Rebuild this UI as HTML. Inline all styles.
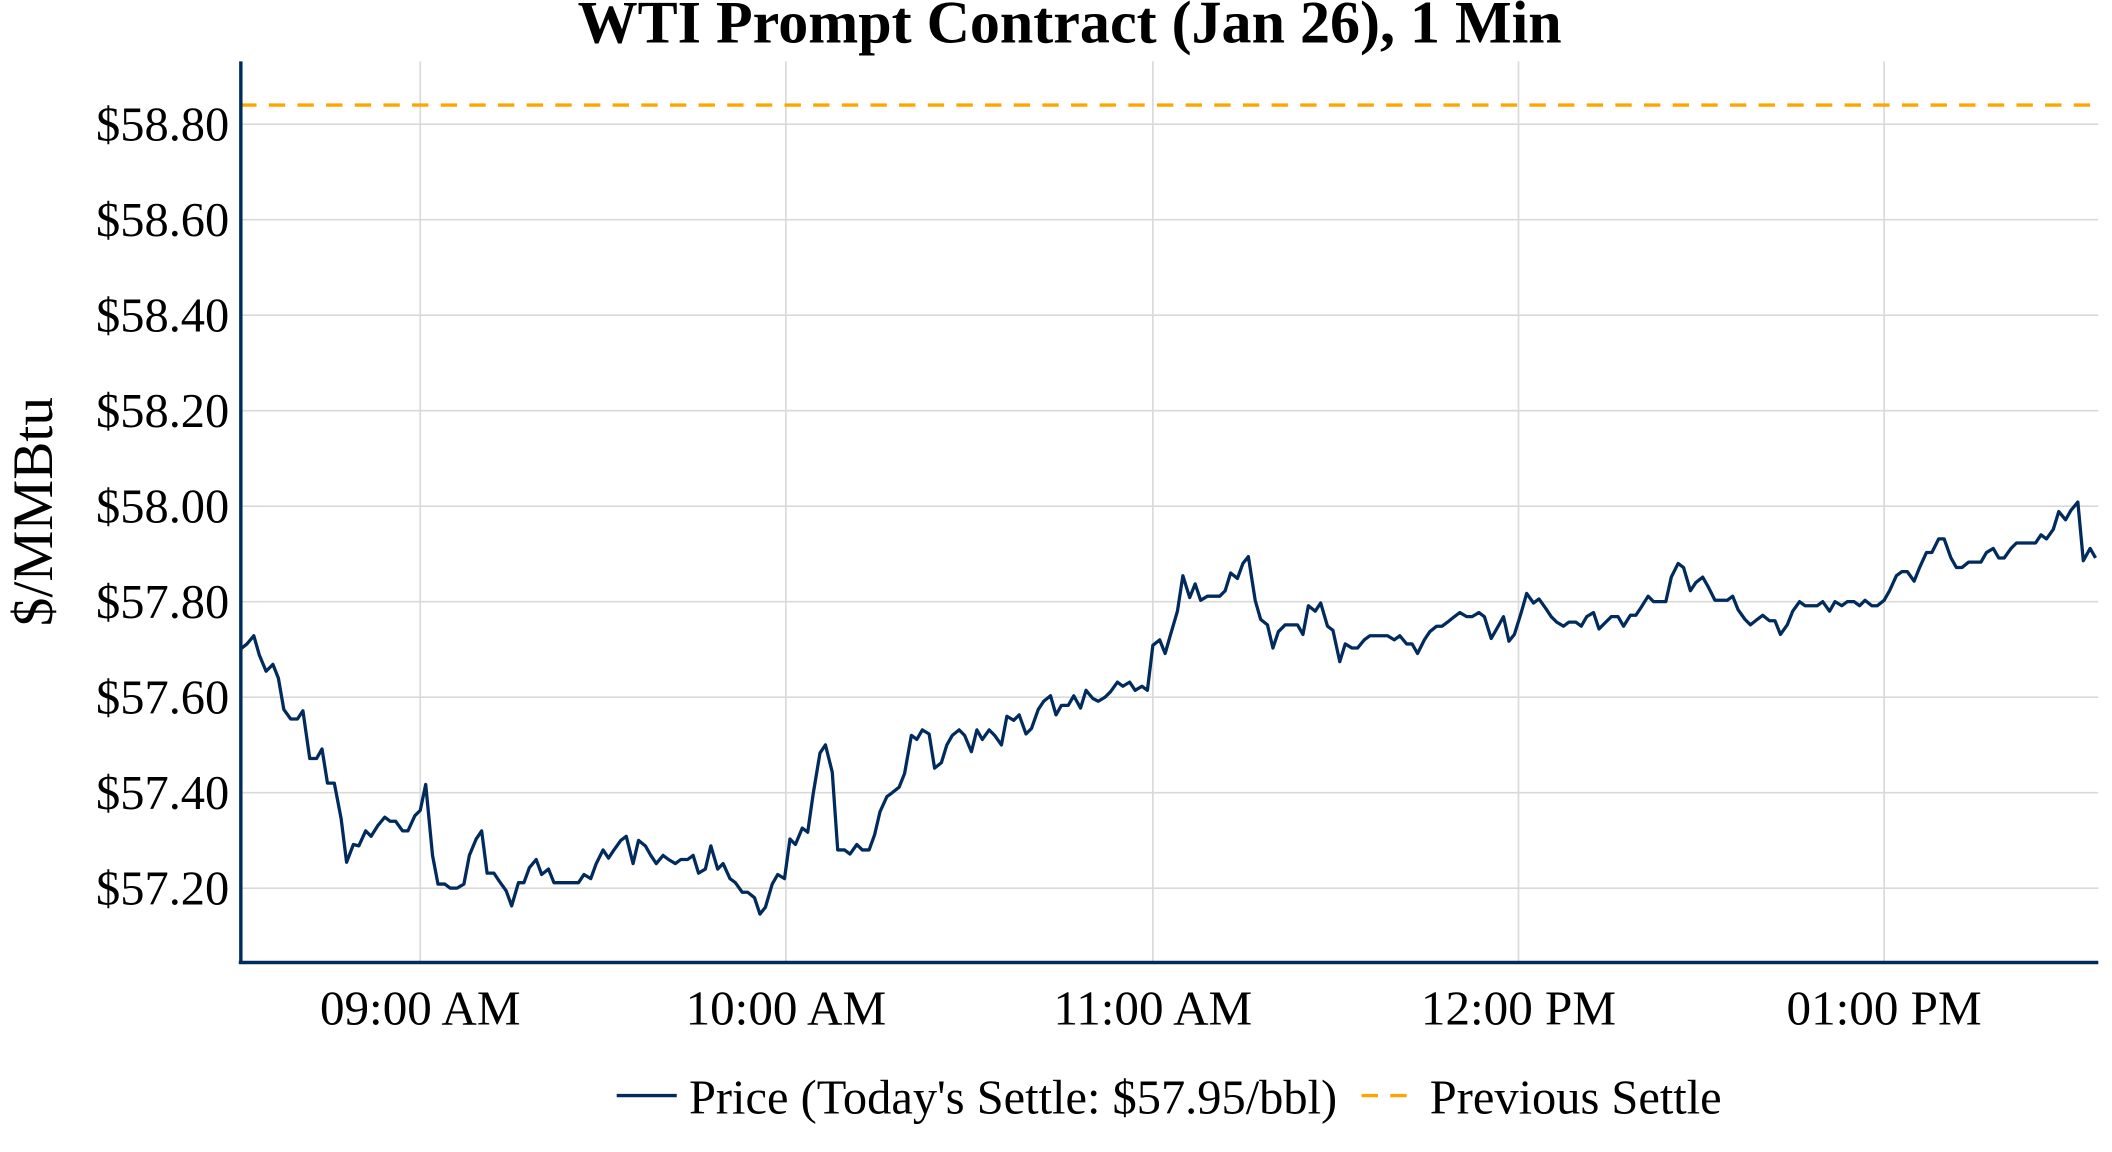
<!DOCTYPE html>
<html><head><meta charset="utf-8"><style>
html,body{margin:0;padding:0;background:#fff;}
svg{display:block;}
text{font-family:"Liberation Serif",serif;fill:#000;}
</style></head><body>
<svg width="2112" height="1152" viewBox="0 0 1548 844.4" xmlns="http://www.w3.org/2000/svg">
<rect width="1548" height="845" fill="#fff"/>
<g stroke="#d9d9d9" stroke-width="1.2">
<line x1="176" x2="1538" y1="91" y2="91"/><line x1="176" x2="1538" y1="161" y2="161"/>
<line x1="176" x2="1538" y1="231" y2="231"/><line x1="176" x2="1538" y1="301" y2="301"/>
<line x1="176" x2="1538" y1="371" y2="371"/><line x1="176" x2="1538" y1="441" y2="441"/>
<line x1="176" x2="1538" y1="511" y2="511"/><line x1="176" x2="1538" y1="581" y2="581"/>
<line x1="176" x2="1538" y1="651" y2="651"/>
<line x1="308" x2="308" y1="45" y2="705"/><line x1="576" x2="576" y1="45" y2="705"/>
<line x1="845" x2="845" y1="45" y2="705"/><line x1="1113" x2="1113" y1="45" y2="705"/>
<line x1="1381" x2="1381" y1="45" y2="705"/>
</g>
<line x1="176" x2="1538" y1="77" y2="77" stroke="#ffa500" stroke-width="2.5" stroke-dasharray="12,9"/>
<polyline fill="none" stroke="#002b5c" stroke-width="2.4" stroke-linejoin="round" points="176,476 181,472 186,466 190,480 195,492 200,487 204,497 208,520 213,527 218,527 222,521 227,556 232,556 236,549 240,574 245,574 250,600 254,632 259,619 263,620 268,609 272,613 277,605 282,599 286,602 290,602 295,609 299,609 304,598 308,594 312,575 317,627 321,648 326,648 330,651 335,651 340,648 344,627 349,615 353,609 357,640 362,640 366,646 371,653 375,664 380,647 384,647 388,636 393,630 397,641 402,637 406,647 410,647 415,647 420,647 424,647 428,641 433,644 437,633 442,623 446,629 450,623 455,616 459,613 464,633 468,616 473,620 477,627 481,633 486,627 490,630 495,633 499,630 504,630 508,627 512,640 517,637 521,620 526,637 530,633 535,644 539,647 544,654 548,654 553,658 557,670 561,665 566,648 570,641 575,644 579,615 583,619 588,607 592,610 596,582 601,552 605,546 610,566 614,623 619,623 623,626 628,619 632,623 637,623 641,612 645,595 650,584 654,581 659,577 663,567 668,539 672,542 676,535 681,538 685,563 690,559 694,546 698,539 703,535 707,539 712,551 716,535 720,542 725,535 729,539 734,546 738,525 743,528 747,524 752,538 756,534 761,520 765,514 770,510 774,524 778,517 783,517 787,510 792,519 796,506 801,512 805,514 810,511 814,507 819,500 823,503 828,500 832,506 837,503 841,506 845,473 850,469 854,479 858,465 863,448 867,422 872,438 876,428 880,440 885,437 889,437 894,437 898,433 902,420 907,424 911,413 915,408 920,440 924,454 929,458 933,475 937,463 942,458 946,458 951,458 955,465 959,444 964,448 968,442 973,459 977,462 982,485 986,472 991,475 995,475 1000,469 1004,466 1008,466 1013,466 1017,466 1022,469 1026,466 1031,472 1035,472 1039,479 1044,469 1048,463 1053,459 1057,459 1061,456 1066,452 1070,449 1075,452 1079,452 1084,449 1088,452 1093,468 1097,461 1102,452 1106,470 1110,465 1115,449 1119,435 1124,442 1128,439 1133,446 1137,452 1141,456 1146,459 1150,456 1155,456 1159,459 1163,452 1168,449 1172,461 1177,456 1181,452 1186,452 1190,459 1195,451 1199,451 1203,445 1208,437 1212,441 1217,441 1221,441 1225,423 1230,413 1234,416 1239,433 1243,427 1248,423 1252,430 1257,440 1261,440 1266,440 1270,437 1274,447 1279,454 1283,458 1288,454 1292,451 1297,455 1301,455 1305,465 1310,458 1314,448 1319,441 1323,444 1328,444 1332,444 1336,441 1341,448 1345,441 1350,444 1354,441 1359,441 1363,444 1367,440 1372,444 1376,444 1381,440 1385,433 1390,422 1394,419 1398,419 1403,426 1407,416 1412,405 1416,405 1421,395 1425,395 1430,409 1434,416 1438,416 1443,412 1447,412 1452,412 1456,405 1461,402 1465,409 1469,409 1474,402 1478,398 1483,398 1487,398 1492,398 1496,392 1500,395 1505,388 1509,375 1514,381 1518,374 1523,368 1527,411 1532,402 1536,409"/>
<line x1="176.5" x2="176.5" y1="45" y2="706" stroke="#002b5c" stroke-width="2.5"/>
<line x1="175" x2="1538" y1="705.5" y2="705.5" stroke="#002b5c" stroke-width="2.5"/>
<text x="784" y="31" text-anchor="middle" font-size="44" font-weight="bold">WTI Prompt Contract (Jan 26), 1 Min</text>
<g font-size="35.5" text-anchor="end">
<text x="168" y="103">$58.80</text><text x="168" y="173">$58.60</text>
<text x="168" y="243">$58.40</text><text x="168" y="313">$58.20</text>
<text x="168" y="383">$58.00</text><text x="168" y="453">$57.80</text>
<text x="168" y="523">$57.60</text><text x="168" y="593">$57.40</text>
<text x="168" y="663">$57.20</text>
</g>
<g font-size="36" text-anchor="middle">
<text x="308" y="751">09:00 AM</text><text x="576" y="751">10:00 AM</text>
<text x="845" y="751">11:00 AM</text><text x="1113" y="751">12:00 PM</text>
<text x="1381" y="751">01:00 PM</text>
</g>
<text transform="translate(38,375) rotate(-90)" text-anchor="middle" font-size="42">$/MMBtu</text>
<line x1="452" x2="496" y1="803" y2="803" stroke="#002b5c" stroke-width="2.5"/>
<text x="505" y="816" font-size="35.5">Price (Today's Settle: $57.95/bbl)</text>
<line x1="998" x2="1040" y1="803" y2="803" stroke="#ffa500" stroke-width="2.5" stroke-dasharray="12,9"/>
<text x="1048" y="816" font-size="35.5">Previous Settle</text>
</svg>
</body></html>
